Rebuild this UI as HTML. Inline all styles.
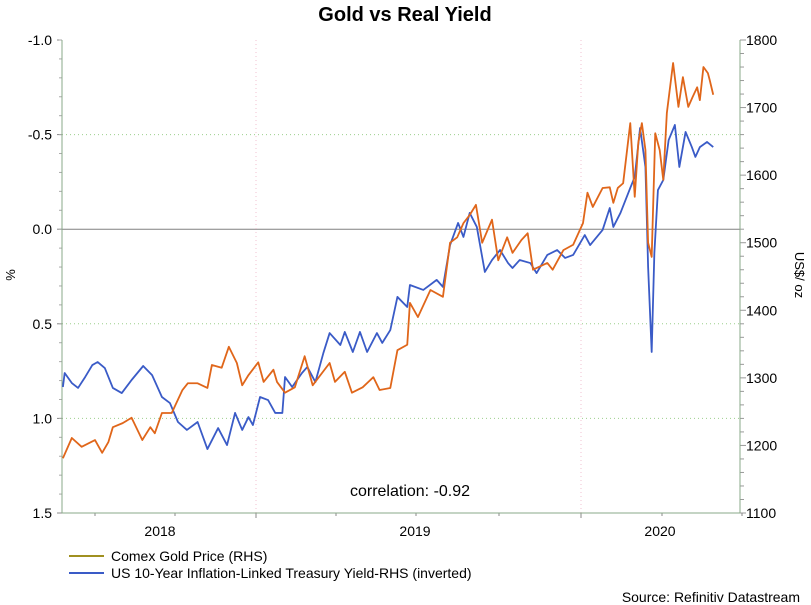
<!DOCTYPE html>
<html><head><meta charset="utf-8"><style>
body{margin:0;background:#fff;}
svg{display:block;font-family:"Liberation Sans",sans-serif;}
</style></head><body>
<svg id="chart" width="811" height="605">
<text x="405" y="21" text-anchor="middle" font-size="20" font-weight="bold">Gold vs Real Yield</text>
<g id="grid"></g><g id="axes"></g><g id="series"></g>
<text x="410" y="496" text-anchor="middle" font-size="16">correlation: -0.92</text>
<text transform="translate(15,275) rotate(-90)" text-anchor="middle" font-size="13">%</text>
<text transform="translate(795,275) rotate(90)" text-anchor="middle" font-size="13">US$/ oz</text>
<g>
<line x1="69" y1="556" x2="104" y2="556" stroke="#a09020" stroke-width="2"/>
<text x="111" y="561" font-size="14">Comex Gold Price (RHS)</text>
<line x1="69" y1="573" x2="104" y2="573" stroke="#3a5bc7" stroke-width="2"/>
<text x="111" y="578" font-size="14">US 10-Year Inflation-Linked Treasury Yield-RHS (inverted)</text>
</g>
<text x="800" y="602" text-anchor="end" font-size="14">Source: Refinitiv Datastream</text>
</svg>
<script>
const goldDays=[1,11,22,37,45,52,57,68,78,90,99,104,112,123,135,141,152,163,168,179,187,196,202,209,220,226,237,241,250,261,272,281,300,306,317,325,337,349,356,368,376,387,390,399,413,427,435,443,450,457,464,471,482,489,499,505,515,522,528,544,550,562,573,584,589,595,606,614,618,623,629,637,642,646,650,654,657,661,665,670,674,678,685,691,696,702,707,712,715,719,724,726,730];
const goldVals=[1181,1211,1198,1208,1189,1205,1227,1233,1241,1208,1227,1218,1248,1248,1282,1292,1292,1285,1319,1315,1346,1322,1289,1304,1323,1294,1312,1294,1278,1286,1332,1289,1322,1294,1309,1278,1286,1301,1282,1285,1341,1349,1411,1390,1430,1420,1500,1508,1529,1541,1556,1500,1534,1474,1508,1485,1504,1514,1460,1470,1460,1489,1497,1529,1574,1553,1581,1582,1559,1581,1588,1677,1568,1648,1677,1637,1500,1479,1662,1637,1593,1692,1766,1701,1745,1701,1716,1730,1711,1760,1751,1741,1719];
const yieldDays=[1,3,11,18,26,34,40,48,57,67,78,91,101,112,121,130,140,152,163,175,185,194,202,209,214,222,231,239,247,250,258,269,275,284,293,300,312,317,326,334,342,353,359,368,376,387,390,405,420,427,435,444,450,457,465,471,474,482,491,500,505,513,525,532,544,555,564,573,586,592,606,614,618,626,637,642,648,654,657,661,664,668,674,680,687,692,699,706,710,715,723,730];
const yieldVals=[0.834,0.760,0.813,0.839,0.781,0.718,0.702,0.734,0.839,0.866,0.797,0.723,0.771,0.887,0.919,1.019,1.061,1.019,1.162,1.051,1.141,0.971,1.061,0.993,1.035,0.887,0.903,0.971,0.971,0.781,0.834,0.760,0.728,0.808,0.654,0.549,0.612,0.543,0.649,0.543,0.649,0.549,0.601,0.533,0.358,0.411,0.295,0.321,0.268,0.305,0.084,-0.033,0.041,-0.086,-0.012,0.147,0.226,0.163,0.110,0.179,0.205,0.163,0.179,0.232,0.136,0.110,0.152,0.136,0.031,0.084,0.004,-0.112,-0.012,-0.086,-0.218,-0.276,-0.535,-0.329,0.200,0.649,0.126,-0.207,-0.260,-0.471,-0.551,-0.329,-0.514,-0.434,-0.382,-0.434,-0.461,-0.434];
const leftTicks=["-1.0","-0.5","0.0","0.5","1.0","1.5"];
const rightTicks=["1800","1700","1600","1500","1400","1300","1200","1100"];
const yearLabels=["2018","2019","2020"];

const X0=62,X1=740,Y0=40,Y1=513,DMAX=760;
const xs=d=>X0+(d/DMAX)*(X1-X0);
const yL=v=>Y0+(v-(-1))/2.5*(Y1-Y0);
const yR=v=>Y0+(1800-v)/700*(Y1-Y0);
const NS="http://www.w3.org/2000/svg";
function mk(tag,attrs,parent){const e=document.createElementNS(NS,tag);for(const k in attrs)e.setAttribute(k,attrs[k]);parent.appendChild(e);return e;}
const grid=document.getElementById('grid'),axes=document.getElementById('axes'),series=document.getElementById('series');

leftTicks.forEach(t=>{const v=parseFloat(t);const y=yL(v);
 if(v>-1&&v<1.5){const l=mk('line',{x1:X0,x2:X1,y1:y,y2:y,stroke:v===0?'#808080':'#9ccf8c','stroke-dasharray':v===0?'':'1,3','stroke-width':1},grid);
 
 }
 const tl=mk('line',{x1:X0-5,x2:X0,y1:y,y2:y,stroke:'#888'},axes);
 
 
 const tx=mk('text',{x:X0-10,y:y+5,'text-anchor':'end','font-size':14},axes);tx.textContent=t;
 
 
});
for(let v=1100;v<=1800;v+=20){const y=yR(v);const major=v%100===0;
 const tl=mk('line',{x1:X1,x2:X1+(major?6:4),y1:y,y2:y,stroke:'#999'},axes);
 
 }
rightTicks.forEach(t=>{const y=yR(+t);const tx=mk('text',{x:X1+6,y:y+5,'font-size':14},axes);tx.textContent=t;
 
 });
for(let v=-1;v<=1.5;v+=0.1){const y=yL(v);
 const tl=mk('line',{x1:X0-3,x2:X0,y1:y,y2:y,stroke:'#aaa'},axes);
 
 }
[256,581].forEach(x=>{const l=mk('line',{x1:x,x2:x,y1:Y0,y2:Y1,stroke:'#f0c0d0','stroke-dasharray':'1,3'},grid);
 
 });
[95,175,256,336,416,499,581,662,742].forEach(x=>{const l=mk('line',{x1:x,x2:x,y1:Y1,y2:Y1+(x===256||x===581?5:3),stroke:'#888'},axes);
 
 });
[160,415,660].forEach((x,i)=>{const t=mk('text',{x:x,y:536,'text-anchor':'middle','font-size':14},axes);t.textContent=yearLabels[i];
 
 });
[[X0,Y0,X0,Y1],[X1,Y0,X1,Y1],[X0,Y1,X1,Y1]].forEach(a=>{const l=mk('line',{x1:a[0],y1:a[1],x2:a[2],y2:a[3],stroke:'#8aa88a','stroke-width':1},axes);
 
 });

const yp=mk('polyline',{points:yieldDays.map((d,i)=>xs(d)+','+yL(yieldVals[i])).join(' '),fill:'none',stroke:'#3a5bc7','stroke-width':1.8,'stroke-linejoin':'round'},series);


const gp=mk('polyline',{points:goldDays.map((d,i)=>xs(d)+','+yR(goldVals[i])).join(' '),fill:'none',stroke:'#e0661a','stroke-width':1.8,'stroke-linejoin':'round'},series);


</script>
</body></html>
